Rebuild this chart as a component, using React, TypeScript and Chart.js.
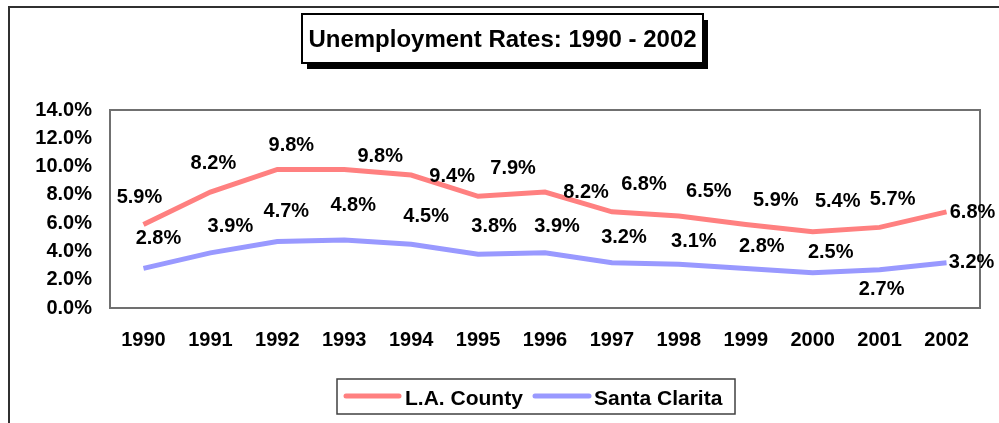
import React, { useEffect, useRef } from "react";
import { Chart, registerables } from "chart.js";

Chart.register(...registerables);

// ---- Data ----
const years = ["1990", "1991", "1992", "1993", "1994", "1995", "1996", "1997", "1998", "1999", "2000", "2001", "2002"];
const laCounty = [5.9, 8.2, 9.8, 9.8, 9.4, 7.9, 8.2, 6.8, 6.5, 5.9, 5.4, 5.7, 6.8];
const santaClarita = [2.8, 3.9, 4.7, 4.8, 4.5, 3.8, 3.9, 3.2, 3.1, 2.8, 2.5, 2.7, 3.2];
const seriesNames = ["L.A. County", "Santa Clarita"];
const chartTitle = "Unemployment Rates: 1990 - 2002";
const yMin = 0;
const yMax = 14;
const yStep = 2;

// ---- Styling ----
const FAMILY = '"Liberation Sans", Arial, Helvetica, sans-serif';
const LA_COLOR = "#FF8080";
const SC_COLOR = "#9999FF";

// pixel offsets of each data label relative to its point (label placement, as in the original)
const LABEL_OFFSETS: Record<number, [number, number][]> = {
  0: [[-4, -27], [3, -29], [14, -24], [36, -13], [41, 1], [35, -28], [41, 0], [32, -27], [30, -25], [30, -24], [25, -30], [13, -28], [26, 1]],
  1: [[15, -30], [20, -26], [9, -30], [9, -35], [15, -28], [16, -28], [12, -26], [12, -25], [15, -23], [16, -22], [18, -20], [2, 20], [25, 0]],
};

const decorPlugin = {
  id: "decor",
  beforeDraw(chart: any) {
    const ctx = chart.ctx;
    const W = chart.width;
    const H = chart.height;
    ctx.save();
    ctx.fillStyle = "#ffffff";
    ctx.fillRect(0, 0, W, H);

    // outer frame (top & left edges visible)
    ctx.strokeStyle = "#303030";
    ctx.lineWidth = 2;
    ctx.beginPath();
    ctx.moveTo(W + 2, 7);
    ctx.lineTo(9, 7);
    ctx.lineTo(9, H + 2);
    ctx.stroke();

    // title box with shadow
    const bx = 302, by = 14, bw = 401, bh = 49;
    ctx.fillStyle = "#000000";
    ctx.fillRect(bx + 5, by + 6, bw, bh);
    ctx.fillStyle = "#ffffff";
    ctx.fillRect(bx, by, bw, bh);
    ctx.strokeStyle = "#000000";
    ctx.lineWidth = 2;
    ctx.strokeRect(bx, by, bw, bh);
    ctx.fillStyle = "#000000";
    ctx.font = `bold 24px ${FAMILY}`;
    ctx.textAlign = "center";
    ctx.textBaseline = "alphabetic";
    ctx.fillText(chartTitle, bx + bw / 2, 47);

    // legend
    const lx = 337, ly = 379, lw = 398, lh = 35;
    ctx.fillStyle = "#ffffff";
    ctx.fillRect(lx, ly, lw, lh);
    ctx.strokeStyle = "#404040";
    ctx.lineWidth = 1.5;
    ctx.strokeRect(lx, ly, lw, lh);
    const items = [
      { x0: 346, x1: 399, tx: 405 },
      { x0: 535, x1: 589, tx: 594 },
    ];
    chart.data.datasets.forEach((ds: any, i: number) => {
      const it = items[i];
      ctx.strokeStyle = ds.borderColor;
      ctx.lineWidth = 5;
      ctx.lineCap = "round";
      ctx.beginPath();
      ctx.moveTo(it.x0, 396);
      ctx.lineTo(it.x1, 396);
      ctx.stroke();
      ctx.fillStyle = "#000000";
      ctx.font = `bold 21px ${FAMILY}`;
      ctx.textAlign = "left";
      ctx.textBaseline = "alphabetic";
      ctx.fillText(ds.label, it.tx, 405);
    });
    ctx.restore();
  },
  beforeDatasetsDraw(chart: any) {
    const { ctx, chartArea } = chart;
    ctx.save();
    ctx.strokeStyle = "#707070";
    ctx.lineWidth = 2;
    ctx.strokeRect(chartArea.left, chartArea.top, chartArea.right - chartArea.left, chartArea.bottom - chartArea.top);
    ctx.restore();
  },
  afterDatasetsDraw(chart: any) {
    const ctx = chart.ctx;
    ctx.save();
    ctx.fillStyle = "#000000";
    ctx.font = `bold 20px ${FAMILY}`;
    ctx.textAlign = "center";
    ctx.textBaseline = "middle";
    chart.data.datasets.forEach((ds: any, di: number) => {
      const meta = chart.getDatasetMeta(di);
      meta.data.forEach((pt: any, i: number) => {
        const off = (LABEL_OFFSETS[di] && LABEL_OFFSETS[di][i]) || [0, -20];
        const v = ds.data[i];
        ctx.fillText(v.toFixed(1) + "%", pt.x + off[0], pt.y + off[1]);
      });
    });
    ctx.restore();
  },
};

export default function App() {
  const canvasRef = useRef<HTMLCanvasElement | null>(null);

  useEffect(() => {
    const canvas = canvasRef.current;
    if (!canvas) return;
    const chart = new Chart(canvas, {
      type: "line",
      data: {
        labels: years,
        datasets: [
          {
            label: seriesNames[0],
            data: laCounty,
            borderColor: LA_COLOR,
            backgroundColor: LA_COLOR,
            borderWidth: 5,
            pointRadius: 0,
            pointHoverRadius: 0,
            tension: 0,
            fill: false,
          },
          {
            label: seriesNames[1],
            data: santaClarita,
            borderColor: SC_COLOR,
            backgroundColor: SC_COLOR,
            borderWidth: 5,
            pointRadius: 0,
            pointHoverRadius: 0,
            tension: 0,
            fill: false,
          },
        ],
      },
      options: {
        responsive: false,
        animation: false,
        devicePixelRatio: 1,
        layout: { padding: { top: 110, right: 19, left: 0, bottom: 0 } },
        plugins: {
          legend: { display: false },
          title: { display: false },
          tooltip: { enabled: false },
        },
        scales: {
          x: {
            type: "category",
            offset: true,
            grid: { display: false, drawTicks: false },
            border: { display: false },
            ticks: {
              color: "#000000",
              font: { family: FAMILY, size: 20, weight: "bold" },
              padding: 20,
              autoSkip: false,
              maxRotation: 0,
              minRotation: 0,
            },
            afterFit: (scale: any) => {
              scale.height = 115;
            },
          },
          y: {
            min: yMin,
            max: yMax,
            grid: { display: false, drawTicks: false },
            border: { display: false },
            ticks: {
              stepSize: yStep,
              color: "#000000",
              font: { family: FAMILY, size: 20, weight: "bold" },
              padding: 18,
              callback: (v: any) => Number(v).toFixed(1) + "%",
            },
            afterFit: (scale: any) => {
              scale.width = 110;
            },
          },
        },
      },
      plugins: [decorPlugin],
    });
    return () => chart.destroy();
  }, []);

  return (
    <div style={{ position: "fixed", left: 0, top: 0, width: 999, height: 423, background: "#fff" }}>
      <canvas ref={canvasRef} width={999} height={423} style={{ display: "block" }} />
    </div>
  );
}
